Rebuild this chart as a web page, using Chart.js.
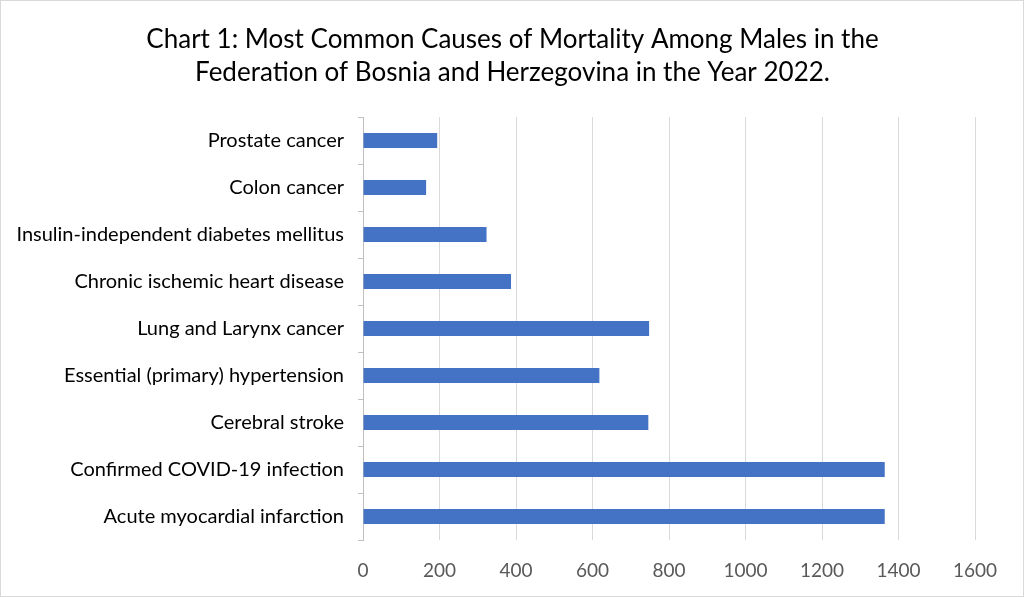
<!DOCTYPE html>
<html>
<head>
<meta charset="utf-8">
<script src="https://cdn.jsdelivr.net/npm/chart.js@4"></script>
<style>
  html, body { margin: 0; padding: 0; background: #fff; }
  #wrap { width: 1024px; height: 597px; box-sizing: border-box; border: 1px solid #d9d9d9; position: relative; }
  canvas { display: block; }
</style>
</head>
<body>
<div id="wrap"><canvas id="chart" width="1022" height="595"></canvas></div>
<script>
// chart data
const causes = [
    'Prostate cancer',
    'Colon cancer',
    'Insulin-independent diabetes mellitus',
    'Chronic ischemic heart disease',
    'Lung and Larynx cancer',
    'Essential (primary) hypertension',
    'Cerebral stroke',
    'Confirmed COVID-19 infection',
    'Acute myocardial infarction'
];
const deaths = [194, 165, 323, 387, 748, 618, 746, 1364, 1364];
const xTicks = [0, 200, 400, 600, 800, 1000, 1200, 1400, 1600];
const titleLines = [
    'Chart 1: Most Common Causes of Mortality Among Males in the',
    'Federation of Bosnia and Herzegovina in the Year 2022.'
];

const FONT = 'Lato';

// title is centred on the whole canvas, not on the padded layout box
const centeredTitle = {
    id: 'centeredTitle',
    afterDraw: function(chart) {
        const ctx = chart.ctx;
        ctx.save();
        ctx.font = '26px ' + FONT;
        ctx.fillStyle = '#000';
        ctx.textAlign = 'center';
        ctx.textBaseline = 'middle';
        titleLines.forEach(function(line, i) {
            ctx.fillText(line, chart.width / 2 + 0.5, 39 + i * 33);
        });
        ctx.restore();
    }
};

new Chart(document.getElementById('chart').getContext('2d'), {
    type: 'bar',
    data: {
        labels: causes,
        datasets: [{
            data: deaths,
            backgroundColor: '#4472C4',
            categoryPercentage: 1,
            barPercentage: 0.32
        }]
    },
    plugins: [centeredTitle],
    options: {
        indexAxis: 'y',
        responsive: false,
        animation: false,
        layout: { padding: { left: 0, right: 48, top: 116, bottom: 0 } },
        plugins: {
            legend: { display: false },
            tooltip: { enabled: false },
            title: { display: false }
        },
        scales: {
            x: {
                min: 0,
                max: 1600,
                afterBuildTicks: function(scale) {
                    scale.ticks = xTicks.map(v => ({ value: v }));
                },
                afterFit: function(scale) { scale.height = 56; },
                grid: { color: '#d9d9d9', lineWidth: 1, drawTicks: false },
                border: { display: false },
                ticks: {
                    padding: 19,
                    color: '#595959',
                    font: { family: FONT, size: 19 },
                    callback: function(value) { return String(value); }
                }
            },
            y: {
                afterFit: function(scale) { scale.width = 362; },
                grid: { drawOnChartArea: false, offset: true, color: '#bfbfbf', tickLength: 5 },
                border: { display: true, color: '#bfbfbf' },
                ticks: {
                    padding: 14,
                    color: '#000',
                    font: { family: FONT, size: 20 }
                }
            }
        }
    }
});
</script>
</body>
</html>
